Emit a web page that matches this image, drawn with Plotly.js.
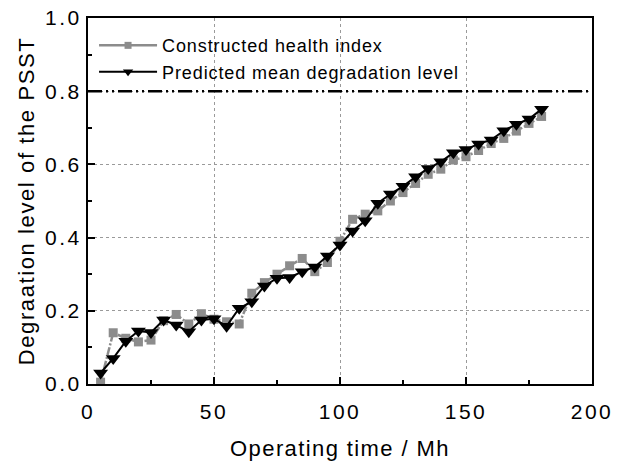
<!DOCTYPE html>
<html>
<head>
<meta charset="utf-8">
<script src="https://cdn.plot.ly/plotly-3.0.1.min.js"></script>
<style>
html,body{margin:0;padding:0;background:#fff;}
#chart{width:624px;height:466px;}
#chart .xtick text, #chart .ytick text, #chart text.xtick, #chart text.ytick{letter-spacing:2.5px;}
#chart text.xtitle{letter-spacing:1.4px;}
#chart text.ytitle{letter-spacing:1.6px;}
#chart text.legendtext{letter-spacing:0.9px;}
#chart .legend [clip-path]{clip-path:none !important;}
</style>
</head>
<body>
<div id="chart"></div>
<script>
var timeMh = [5,10,15,20,25,30,35,40,45,50,55,60,65,70,75,80,85,90,95,100,105,110,115,120,125,130,135,140,145,150,155,160,165,170,175,180];
var healthIndex = [0.005,0.14,0.125,0.115,0.12,0.173,0.19,0.164,0.192,0.177,0.17,0.164,0.248,0.277,0.30,0.323,0.343,0.307,0.332,0.39,0.45,0.464,0.473,0.50,0.523,0.548,0.573,0.587,0.612,0.621,0.638,0.657,0.671,0.691,0.712,0.731];
var predictedMean = [0.03,0.07,0.117,0.145,0.141,0.175,0.161,0.143,0.175,0.178,0.158,0.207,0.225,0.268,0.289,0.291,0.307,0.32,0.35,0.38,0.418,0.446,0.494,0.519,0.54,0.566,0.589,0.607,0.632,0.641,0.656,0.667,0.692,0.710,0.724,0.751];
var thresholdX = [0, 200];
var thresholdY = [0.8, 0.8];
var seriesNames = ['Constructed health index', 'Predicted mean degradation level'];

var traces = [
  {x: thresholdX, y: thresholdY, mode: 'lines', showlegend: false, hoverinfo: 'skip',
   line: {color: '#000', width: 2.5, dash: '14px,4px,2px,4px,2px,4px'}},
  {x: timeMh, y: healthIndex, name: seriesNames[0], mode: 'lines+markers', showlegend: false,
   line: {color: '#8c8c8c', width: 2.5, dash: '8px,2px,2px,2px'},
   marker: {symbol: 'square', size: 9, color: '#8c8c8c'}},
  {x: timeMh, y: predictedMean, name: seriesNames[1], mode: 'lines+markers', showlegend: false,
   line: {color: '#000', width: 2},
   marker: {symbol: 'triangle-down', size: 13, color: '#000'}},
  // legend-only entries (no marks drawn)
  {x: [null], y: [null], name: seriesNames[0], mode: 'lines+markers',
   line: {color: '#8c8c8c', width: 2.5}, marker: {symbol: 'square', size: 7, color: '#8c8c8c'}},
  {x: [null], y: [null], name: seriesNames[1], mode: 'lines+markers',
   line: {color: '#000', width: 2}, marker: {symbol: 'triangle-down', size: 9, color: '#000'}}
];

var font = 'Liberation Sans, Arial, sans-serif';
var layout = {
  width: 624, height: 466,
  margin: {l: 88, r: 32, t: 18, b: 82},
  paper_bgcolor: '#fff', plot_bgcolor: '#fff',
  font: {family: font, color: '#000', size: 20},
  showlegend: true,
  legend: {x: 0.012, y: 0.975, xanchor: 'left', yanchor: 'top', bgcolor: 'rgba(0,0,0,0)',
           itemwidth: 58, font: {family: font, size: 18, color: '#000'}, tracegroupgap: 0},
  xaxis: {
    range: [0, 200], dtick: 50, tick0: 0,
    showline: true, linecolor: '#000', linewidth: 2, mirror: true,
    ticks: 'inside', ticklen: 7, tickwidth: 2, tickcolor: '#000',
    minor: {ticks: 'inside', ticklen: 4, tickwidth: 2, dtick: 25, tickcolor: '#000', showgrid: false},
    showgrid: true, gridcolor: '#9a9a9a', gridwidth: 1, griddash: 'dot',
    zeroline: false, ticklabelstandoff: 8,
    tickfont: {family: font, size: 21},
    title: {text: 'Operating time / Mh', font: {family: font, size: 22}, standoff: 18}
  },
  yaxis: {
    range: [0, 1], dtick: 0.2, tick0: 0, tickformat: '.1f',
    showline: true, linecolor: '#000', linewidth: 2, mirror: true,
    ticks: 'inside', ticklen: 7, tickwidth: 2, tickcolor: '#000',
    minor: {ticks: 'inside', ticklen: 4, tickwidth: 2, dtick: 0.1, tickcolor: '#000', showgrid: false},
    showgrid: true, gridcolor: '#9a9a9a', gridwidth: 1, griddash: 'dot',
    zeroline: false,
    tickfont: {family: font, size: 21},
    title: {text: 'Degraation level of the PSST', font: {family: font, size: 22}, standoff: 12}
  }
};

Plotly.newPlot('chart', traces, layout, {displayModeBar: false, staticPlot: true});
</script>
</body>
</html>
